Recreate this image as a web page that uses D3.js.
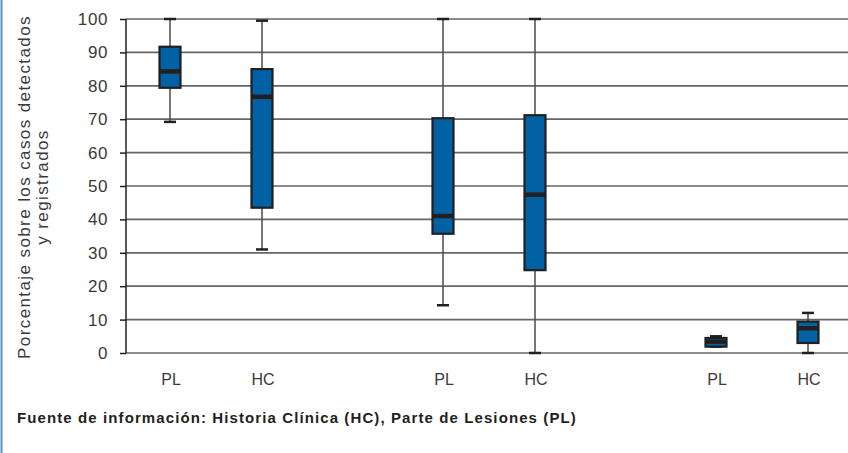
<!DOCTYPE html>
<html>
<head>
<meta charset="utf-8">
<script src="https://cdn.jsdelivr.net/npm/d3@7"></script>
<style>
  body { margin: 0; background: #fff; }
  svg { display: block; }
</style>
</head>
<body>
<div id="chart"></div>
<script>
// datos (porcentaje)
const groups = ["grupo1", "grupo2", "grupo3"];
const sources = ["PL", "HC"];
const boxGroup = ["grupo1", "grupo1", "grupo2", "grupo2", "grupo3", "grupo3"];
const boxSource = ["PL", "HC", "PL", "HC", "PL", "HC"];
const whiskerHigh = [100, 99.5, 100, 100, 5, 12];
const q3 = [91.7, 85, 70.3, 71.2, 4.5, 9.4];
const median = [84.3, 76.7, 41, 47.4, 3.4, 7.4];
const q1 = [79.4, 43.5, 35.7, 24.8, 1.9, 3];
const whiskerLow = [69.2, 31, 14.3, 0, 1.9, 0];
const yTicks = [0, 10, 20, 30, 40, 50, 60, 70, 80, 90, 100];
const yTitle = ["Porcentaje sobre los casos detectados", "y registrados"];
const footer = "Fuente de información: Historia Clínica (HC), Parte de Lesiones (PL)";

const W = 848, H = 453;
const plotLeft = 126, plotRight = 848, plotTop = 19, plotBottom = 353;

const data = boxSource.map((s, i) => ({
    group: boxGroup[i], source: s,
    hi: whiskerHigh[i], q3: q3[i], med: median[i], q1: q1[i], lo: whiskerLow[i]
}));

const svg = d3.select("#chart").append("svg")
    .attr("width", W).attr("height", H);

// borde izquierdo azul
svg.append("line")
    .attr("x1", 1.5).attr("x2", 1.5).attr("y1", 0).attr("y2", H)
    .attr("stroke", "#5b8fcc").attr("stroke-width", 2);

const y = d3.scaleLinear().domain([0, 100]).range([plotBottom, plotTop]);
const x = d3.scalePoint().domain(groups).range([216, 762]);
const xi = d3.scalePoint().domain(sources).range([-46, 46]);
const cx = d => x(d.group) + xi(d.source);

// lineas de cuadricula
svg.append("g")
    .selectAll("line")
    .data(yTicks)
    .enter().append("line")
    .attr("x1", plotLeft).attr("x2", plotRight)
    .attr("y1", d => y(d)).attr("y2", d => y(d))
    .attr("stroke", "#666").attr("stroke-width", 1.7);

// eje y
const yAxis = svg.append("g")
    .attr("transform", `translate(${plotLeft},0)`)
    .call(d3.axisLeft(y).tickValues(yTicks).tickSize(6).tickPadding(12));
yAxis.select(".domain").attr("stroke", "#231f20").attr("stroke-width", 1.5)
    .attr("d", `M0,${plotTop}V${plotBottom}`);
yAxis.selectAll(".tick line").attr("stroke", "#231f20").attr("stroke-width", 1.5);
yAxis.selectAll(".tick text")
    .attr("fill", "#3a3a3a")
    .style("font-family", "'Liberation Sans', Arial, sans-serif")
    .style("font-size", "17px")
    .style("letter-spacing", "0.6px");

// titulo eje y
const title = svg.append("text")
    .attr("transform", "translate(30,187) rotate(-90)")
    .attr("text-anchor", "middle")
    .attr("fill", "#3a3a3a")
    .style("font-family", "'Liberation Sans', Arial, sans-serif")
    .style("font-size", "17px")
    .style("letter-spacing", "1.4px");
title.selectAll("tspan")
    .data(yTitle)
    .enter().append("tspan")
    .attr("x", 0)
    .attr("dy", (d, i) => i === 0 ? 0 : 18)
    .text(d => d);

// etiquetas x
svg.append("g")
    .selectAll("text")
    .data(data)
    .enter().append("text")
    .attr("x", d => cx(d) + 1)
    .attr("y", 385)
    .attr("text-anchor", "middle")
    .attr("fill", "#3a3a3a")
    .style("font-family", "'Liberation Sans', Arial, sans-serif")
    .style("font-size", "16px")
    .text(d => d.source);

// cajas
const bw = 21, capW = 12;
const boxes = svg.append("g").selectAll("g")
    .data(data)
    .enter().append("g");

boxes.append("line")
    .attr("x1", cx).attr("x2", cx)
    .attr("y1", d => y(d.hi)).attr("y2", d => y(d.lo))
    .attr("stroke", "#4a4a4a").attr("stroke-width", 1.5);

boxes.append("line")
    .attr("x1", d => cx(d) - capW / 2).attr("x2", d => cx(d) + capW / 2)
    .attr("y1", d => y(d.hi)).attr("y2", d => y(d.hi))
    .attr("stroke", "#231f20").attr("stroke-width", 2.5);

boxes.append("line")
    .attr("x1", d => cx(d) - capW / 2).attr("x2", d => cx(d) + capW / 2)
    .attr("y1", d => y(d.lo)).attr("y2", d => y(d.lo))
    .attr("stroke", "#231f20").attr("stroke-width", 2.5);

boxes.append("rect")
    .attr("x", d => cx(d) - bw / 2)
    .attr("width", bw)
    .attr("y", d => y(d.q3))
    .attr("height", d => y(d.q1) - y(d.q3))
    .attr("fill", "#0062a4")
    .attr("stroke", "#231f20").attr("stroke-width", 2.2);

boxes.append("line")
    .attr("x1", d => cx(d) - bw / 2 - 0.5).attr("x2", d => cx(d) + bw / 2 + 0.5)
    .attr("y1", d => y(d.med)).attr("y2", d => y(d.med))
    .attr("stroke", "#231f20").attr("stroke-width", 4.5);

// fuente
svg.append("text")
    .attr("x", 17).attr("y", 423)
    .attr("fill", "#231f20")
    .style("font-family", "'Liberation Sans', Arial, sans-serif")
    .style("font-size", "15px")
    .style("font-weight", "bold")
    .style("letter-spacing", "1.1px")
    .text(footer);
</script>
</body>
</html>
